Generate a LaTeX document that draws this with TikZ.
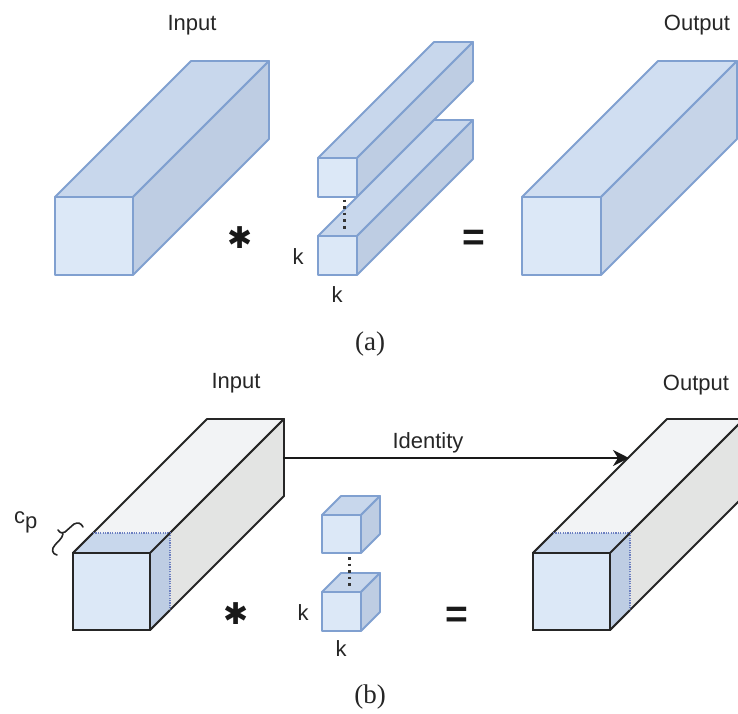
\documentclass[tikz,border=0pt]{standalone}
\usepackage{fontspec}
\usetikzlibrary{arrows.meta}
\setmainfont{Liberation Sans}
\newfontfamily\serifface{Liberation Serif}
\newfontfamily\symface{DejaVu Sans}
\definecolor{frontblue}{HTML}{DCE8F7}
\definecolor{topblue}{HTML}{C8D7EC}
\definecolor{sideblue}{HTML}{BECDE3}
\definecolor{toplight}{HTML}{D0DEF1}
\definecolor{sidelight}{HTML}{C6D4E8}
\definecolor{edgeblue}{HTML}{80A0D0}
\definecolor{topgrey}{HTML}{F2F3F5}
\definecolor{sidegrey}{HTML}{E3E4E3}
\definecolor{dotblue}{HTML}{6C7FC0}
% #1 x, #2 y of front top-left, #3 w, #4 h, #5 depth, #6 stroke style, #7 top fill, #8 side fill
\newcommand{\cuboid}[8]{%
  \filldraw[#6,fill=#7,line join=round] (#1,#2) -- ++(#5,-#5) -- ++(#3,0) -- ++(-#5,#5) -- cycle;
  \filldraw[#6,fill=#8,line join=round] (#1+#3,#2) -- ++(#5,-#5) -- ++(0,#4) -- ++(-#5,#5) -- cycle;
  \filldraw[#6,fill=frontblue,line join=round] (#1,#2) rectangle ++(#3,#4);
}
% part of the box that the kernel covers: #1 x, #2 y, #3 w, #4 h, #5 depth
\newcommand{\covered}[5]{%
  \fill[topblue] (#1,#2) -- ++(#5,-#5) -- ++(#3,0) -- ++(-#5,#5) -- cycle;
  \fill[sideblue] (#1+#3,#2) -- ++(#5,-#5) -- ++(0,#4) -- ++(-#5,#5) -- cycle;
  \draw[dotline] (#1,#2) ++(#5,-#5) -- ++(#3,0) -- ++(0,#4);
}
\tikzset{
  blueedge/.style={draw=edgeblue,line width=1.8pt},
  blackedge/.style={draw=black!85,line width=1.9pt},
  dotline/.style={draw=dotblue,line width=1.2pt,dash pattern=on 1.2pt off 1.2pt},
  lbl/.style={inner sep=0pt,font=\fontsize{22}{26}\selectfont,text=black!85},
  captext/.style={inner sep=0pt,font=\serifface\fontsize{27}{32}\selectfont,text=black!85},
  opsym/.style={inner sep=0pt,font=\symface\fontsize{30}{34}\selectfont,text=black!90},
  eqsym/.style={inner sep=0pt,font=\bfseries\fontsize{39}{44}\selectfont,text=black!90},
  kdots/.style={draw=black!80,line width=3pt,dash pattern=on 2.6pt off 4pt}
}
\begin{document}
\begin{tikzpicture}[x=1pt,y=-1pt]
\useasboundingbox (0,0) rectangle (738,713);
\clip (0,0) rectangle (738,713);
% (a)
\cuboid{55}{197}{78}{78}{136}{blueedge}{topblue}{sideblue}
\cuboid{318}{158}{39}{39}{116}{blueedge}{topblue}{sideblue}
\cuboid{318}{236}{39}{39}{116}{blueedge}{topblue}{sideblue}
\cuboid{522}{197}{79}{78}{136}{blueedge}{toplight}{sidelight}
\coordinate (adota) at (344.5,199.5);
\coordinate (adotb) at (344.5,230);
\draw[kdots] (adota) -- (adotb);
\node[lbl] (ainput) at (192,25.5) {Input};
\node[lbl] (aoutput) at (697,25.5) {Output};
\node[lbl] (akleft) at (298,256.5) {k};
\node[lbl] (akbottom) at (337,295) {k};
\node[opsym] (astar) at (240,238) {✱};
\node[eqsym] (aeq) at (473.5,240.5) {=};
\node[captext] (acap) at (370,344) {(a)};
% (b)
\cuboid{73}{553}{77}{77}{134}{blackedge}{topgrey}{sidegrey}
\covered{73}{553}{77}{77}{20}
\draw[blackedge,line join=round] (73,553) -- (93,533) (150,553) -- (170,533) (150,630) -- (170,610);
\draw[blackedge,fill=frontblue] (73,553) rectangle (150,630);
\cuboid{533}{553}{77}{77}{134}{blackedge}{topgrey}{sidegrey}
\covered{533}{553}{77}{77}{20}
\draw[blackedge,line join=round] (533,553) -- (553,533) (610,553) -- (630,533) (610,630) -- (630,610);
\draw[blackedge,fill=frontblue] (533,553) rectangle (610,630);
\cuboid{322}{515}{39}{38}{19}{blueedge}{topblue}{sideblue}
\cuboid{322}{592}{39}{39}{19}{blueedge}{topblue}{sideblue}
\coordinate (bdota) at (349,557);
\coordinate (bdotb) at (349,586);
\draw[kdots] (bdota) -- (bdotb);
\coordinate (inedge) at (283,458);
\coordinate (outedge) at (629,458);
\draw[black!90,line width=1.7pt,-{Stealth[length=16pt,width=16pt,inset=5pt]}] (inedge) -- (outedge);
\node[lbl] (binput) at (236,383.5) {Input};
\node[lbl] (boutput) at (696,385.5) {Output};
\node[lbl] (identity) at (428,443) {Identity};
\node[lbl,anchor=base west] (bcp) at (14,523) {c\raisebox{-5.5pt}{p}};
\node[lbl] (bkleft) at (303,613) {k};
\node[lbl] (bkbottom) at (341,649) {k};
\node[opsym] (bstar) at (236,614) {✱};
\node[eqsym] (beq) at (457,617) {=};
\node[captext] (bcap) at (370,697) {(b)};
\coordinate (bracea) at (83,527);
\coordinate (braceb) at (57,555);
\draw[black!85,line width=1.6pt,line cap=round] (bracea) .. controls (81,523) and (78,522) .. (74,524) -- (65,532) .. controls (63,534) and (60,533) .. (58,530) (63,534) .. controls (62,539) and (58,541) .. (55,545) .. controls (51,549) and (52,554) .. (braceb);
\end{tikzpicture}
\end{document}
